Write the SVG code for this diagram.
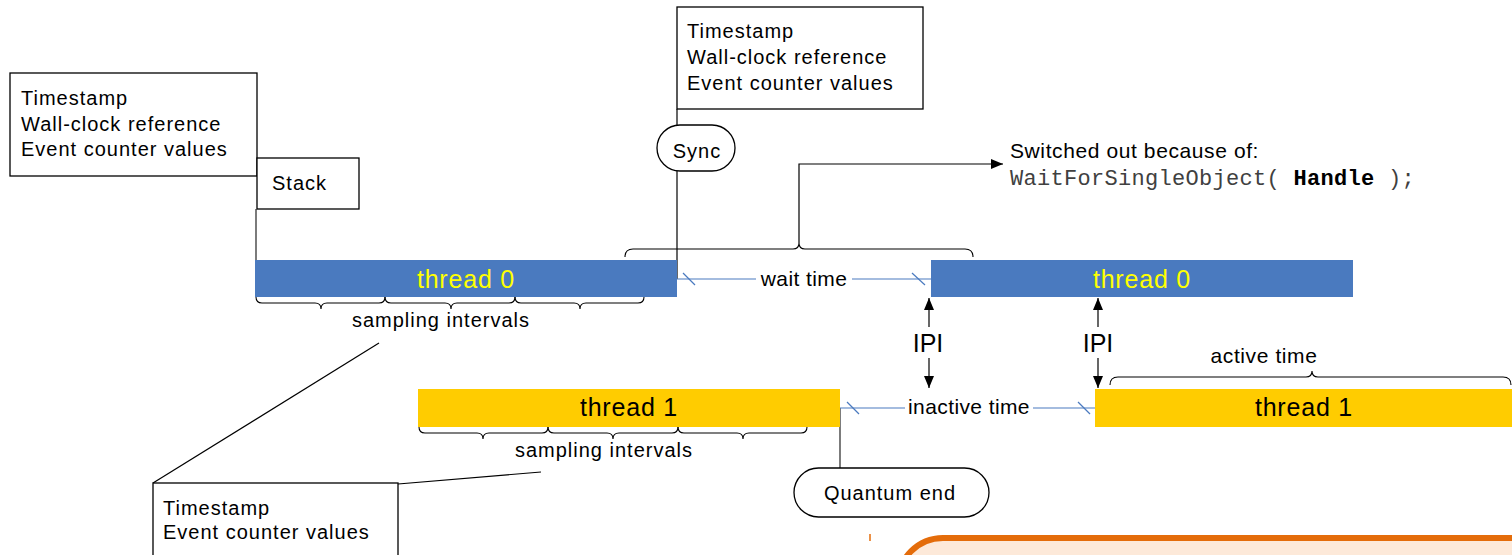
<svg xmlns="http://www.w3.org/2000/svg" width="1512" height="555" viewBox="0 0 1512 555">
<style>
.t{font-family:"Liberation Sans",Arial,sans-serif;font-size:20px;letter-spacing:1px;fill:#000}
.box{fill:#fff;stroke:#000;stroke-width:1.3}
.ln{fill:none;stroke:#000;stroke-width:1.2}
.gl{fill:none;stroke:#444;stroke-width:1.4}
.bl{fill:none;stroke:#4a7abf;stroke-width:1.2}
.br{fill:none;stroke:#000;stroke-width:1.1}
.bar0{fill:#4a7abf}
.bar1{fill:#ffcc00}
.bt{font-family:"Liberation Sans",Arial,sans-serif;font-size:25px;letter-spacing:0.8px;text-anchor:middle}
.ipi{font-family:"Liberation Sans",Arial,sans-serif;font-size:25px;fill:#000;text-anchor:middle}
</style>
<defs>
<marker id="ah" viewBox="0 0 12 10" refX="12" refY="5" markerWidth="12" markerHeight="10" markerUnits="userSpaceOnUse" orient="auto">
<path d="M0,0 L12,5 L0,10 Z" fill="#000"/>
</marker>
</defs>
<rect width="1512" height="555" fill="#fff"/>

<g id="orange-note">
<rect x="898" y="538" width="680" height="120" rx="45" fill="#fde9d9" stroke="#e46c0a" stroke-width="6"/>
<line x1="870" y1="534" x2="870" y2="541" stroke="#e46c0a" stroke-width="1.5"/>
</g>

<g id="connectors">
<line class="gl" x1="256" y1="209" x2="256" y2="262"/>
<line class="ln" x1="677" y1="109" x2="677" y2="125"/>
<line class="ln" x1="677" y1="171" x2="677" y2="279"/>
<path class="ln" d="M799,243 L799,164 L1003,164" marker-end="url(#ah)"/>
<path class="br" d="M625,257 q0,-8 8,-8 L793,249 q6,0 6,-6 q0,6 6,6 L965,249 q8,0 8,8"/>
<line class="ln" x1="379" y1="343" x2="153" y2="483"/>
<line class="ln" x1="398" y1="484" x2="541" y2="472"/>
<line class="gl" x1="840" y1="468" x2="840" y2="408"/>
<!-- wait time line -->
<line class="bl" x1="677" y1="279" x2="931" y2="279"/>
<line class="bl" x1="683" y1="273" x2="695" y2="285"/>
<line class="bl" x1="912" y1="273" x2="925" y2="285"/>
<!-- inactive time line -->
<line class="bl" x1="840" y1="408" x2="1096" y2="408"/>
<line class="bl" x1="847" y1="402" x2="859" y2="414"/>
<line class="bl" x1="1078" y1="402" x2="1090" y2="414"/>
<!-- IPI arrows -->
<line class="ln" x1="929" y1="327" x2="929" y2="298" marker-end="url(#ah)"/>
<line class="ln" x1="929" y1="358" x2="929" y2="388" marker-end="url(#ah)"/>
<line class="ln" x1="1098" y1="327" x2="1098" y2="298" marker-end="url(#ah)"/>
<line class="ln" x1="1098" y1="358" x2="1098" y2="388" marker-end="url(#ah)"/>
<!-- sampling braces thread 0 -->
<path class="br" d="M256,297 q0,6 6,6 L315,303 q6,0 6,6 q0,-6 6,-6 L379,303 q6,0 6,-6"/>
<path class="br" d="M385,297 q0,6 6,6 L445,303 q6,0 6,6 q0,-6 6,-6 L509,303 q6,0 6,-6"/>
<path class="br" d="M515,297 q0,6 6,6 L574,303 q6,0 6,6 q0,-6 6,-6 L638,303 q6,0 6,-6"/>
<!-- sampling braces thread 1 -->
<path class="br" d="M419,427 q0,6 6,6 L477,433 q6,0 6,6 q0,-6 6,-6 L542,433 q6,0 6,-6"/>
<path class="br" d="M548,427 q0,6 6,6 L607,433 q6,0 6,6 q0,-6 6,-6 L672,433 q6,0 6,-6"/>
<path class="br" d="M678,427 q0,6 6,6 L737,433 q6,0 6,6 q0,-6 6,-6 L801,433 q6,0 6,-6"/>
<!-- active time brace -->
<path class="br" d="M1110,385 q0,-8 8,-8 L1306,377 q6,0 6,-6 q0,6 6,6 L1503,377 q8,0 8,8"/>
</g>

<g id="box-ts1">
<rect class="box" x="10" y="73" width="247" height="103"/>
<text class="t" x="21" y="105">Timestamp</text>
<text class="t" x="21" y="131">Wall-clock reference</text>
<text class="t" x="21" y="156">Event counter values</text>
</g>

<g id="box-stack">
<rect class="box" x="257" y="158" width="102" height="51"/>
<text class="t" x="272" y="190">Stack</text>
</g>

<g id="box-ts2">
<rect class="box" x="677" y="7" width="246" height="102"/>
<text class="t" x="687" y="38">Timestamp</text>
<text class="t" x="687" y="64">Wall-clock reference</text>
<text class="t" x="687" y="90">Event counter values</text>
</g>

<g id="sync">
<rect class="box" x="657" y="125" width="78" height="46" rx="23"/>
<text class="t" x="697" y="158" text-anchor="middle">Sync</text>
</g>

<g id="switched-label">
<text class="t" x="1010" y="158" style="font-size:21px;letter-spacing:0.6px">Switched out because of:</text>
<text x="1010" y="185" style="font-family:'Liberation Mono','Courier New',monospace;font-size:22px;letter-spacing:0.3px;fill:#404040">WaitForSingleObject( <tspan font-weight="bold" fill="#000">Handle</tspan> );</text>
</g>

<g id="thread0-a">
<rect class="bar0" x="255" y="260" width="422" height="37"/>
<text class="bt" x="466" y="288" fill="#ffff00">thread 0</text>
</g>
<text class="t" x="441" y="327" text-anchor="middle">sampling intervals</text>

<g id="wait-time">
<rect x="756" y="266" width="96" height="24" fill="#fff"/>
<text class="t" x="804" y="286" text-anchor="middle" style="font-size:21px;letter-spacing:0.4px">wait time</text>
</g>

<g id="thread0-b">
<rect class="bar0" x="931" y="260" width="422" height="37"/>
<text class="bt" x="1142" y="288" fill="#ffff00">thread 0</text>
</g>

<g id="ipi-labels">
<text class="ipi" x="928" y="352">IPI</text>
<text class="ipi" x="1098" y="352">IPI</text>
</g>

<text class="t" x="1264" y="363" text-anchor="middle" style="font-size:21px;letter-spacing:0.6px">active time</text>

<g id="thread1-a">
<rect class="bar1" x="418" y="389" width="422" height="38"/>
<text class="bt" x="629" y="416" fill="#000">thread 1</text>
</g>
<text class="t" x="604" y="457" text-anchor="middle">sampling intervals</text>

<g id="inactive-time">
<rect x="905" y="396" width="128" height="24" fill="#fff"/>
<text class="t" x="969" y="414" text-anchor="middle" style="font-size:21px;letter-spacing:0.4px">inactive time</text>
</g>

<g id="thread1-b">
<rect class="bar1" x="1095" y="389" width="417" height="38"/>
<text class="bt" x="1304" y="416" fill="#000">thread 1</text>
</g>

<g id="quantum-end">
<rect class="box" x="794" y="468" width="195" height="49" rx="24.5"/>
<text class="t" x="890" y="500" text-anchor="middle">Quantum end</text>
</g>

<g id="box-ts3">
<rect class="box" x="153" y="483" width="245" height="90"/>
<text class="t" x="163" y="515">Timestamp</text>
<text class="t" x="163" y="539">Event counter values</text>
</g>
</svg>
